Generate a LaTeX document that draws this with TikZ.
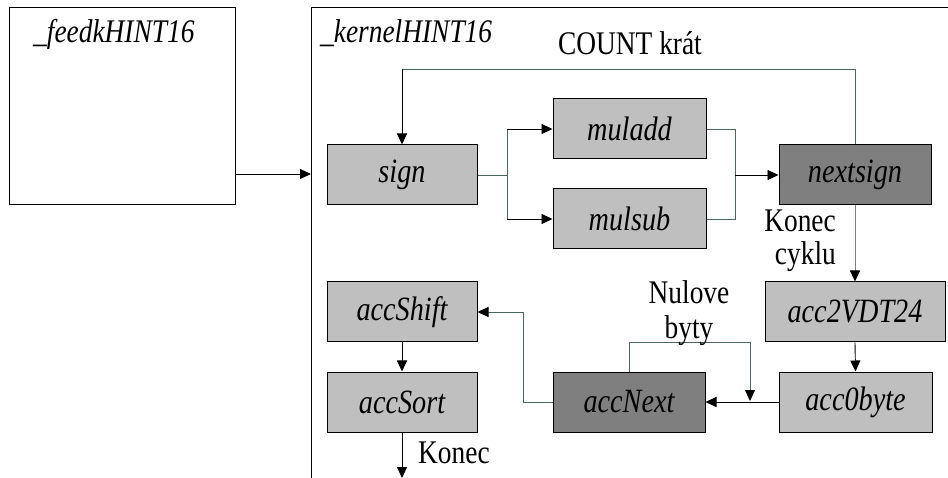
\documentclass[tikz,border=0pt]{standalone}
\usepackage{fontspec}
\setmainfont[FakeStretch=0.83]{Liberation Serif}
\usetikzlibrary{arrows.meta,positioning}
\definecolor{boxlight}{RGB}{191,191,191}
\definecolor{boxdark}{RGB}{127,127,127}
\definecolor{wirecol}{RGB}{75,105,90}

\begin{document}
\begin{tikzpicture}[x=1pt,y=-1pt,
    block/.style={draw,line width=1pt,fill=boxlight,minimum width=150pt,minimum height=60pt,inner sep=0pt,font=\itshape\fontsize{34}{38}\selectfont},
    darkblock/.style={block,fill=boxdark},
    lbl/.style={font=\fontsize{33}{33}\selectfont,inner sep=0pt},
    arr/.style={line width=0.9pt,-{Triangle[length=11pt,width=10pt,color=black]}},
    wire/.style={line width=0.9pt,draw=wirecol}]
  \useasboundingbox (0,0) rectangle (948,478);
  % outer frames
  \node[draw,line width=1pt,minimum width=226pt,minimum height=197pt,inner sep=0pt] (feedk) at (122,106.5) {};
  \node[anchor=base west,lbl] (feedkT) at (33,43) {\textit{\_feedkHINT16}};
  \draw[line width=1pt] (311,478) -- (311,8) -- (948,8);
  \node[anchor=base west,lbl] (kernelT) at (320,43) {\textit{\_kernelHINT16}};
  \node[anchor=base,lbl] (countT) at (630,55) {COUNT krát};
  \coordinate (kin) at (311,174);
  \draw[arr] (feedk.east |- kin) -- (kin);

  % blocks
  \node[block] (sign) at (402,175) {sign};
  \node[block,minimum width=153pt] (muladd) at (629.5,129) {muladd};
  \node[block,minimum width=153pt] (mulsub) at (629.5,219) {mulsub};
  \node[darkblock,minimum width=152pt] (nextsign) at (855,175) {nextsign};
  \node[block,minimum width=180pt] (acc2) at (855,312) {acc2VDT24};
  \node[block,minimum width=153pt] (acc0) at (855.5,402) {acc0byte};
  \node[darkblock,minimum width=152pt] (accNext) at (629,402) {accNext};
  \node[block] (accShift) at (402,312) {accShift};
  \node[block] (accSort) at (402,402) {accSort};

  % loop COUNT times
  \coordinate (loopL) at (402,69);
  \draw[wire] (nextsign.north) |- (loopL);
  \draw[arr] (loopL) -- (sign.north);

  % fork and join
  \coordinate (fork) at (507,175);
  \coordinate (join) at (735,175);
  \draw[wire] (sign.east) -- (fork);
  \draw[wire] (fork |- muladd) -- (fork |- mulsub);
  \draw[arr] (fork |- muladd) -- (muladd.west);
  \draw[arr] (fork |- mulsub) -- (mulsub.west);
  \draw[wire] (muladd.east) -| (join);
  \draw[wire] (mulsub.east) -| (join);
  \draw[arr] (join) -- (nextsign.west);

  % end of loop
  \draw[arr,draw=gray] (nextsign.south) -- (acc2.north);
  \node[lbl,align=right,anchor=base east] (konecC) at (836,265) {Konec\\cyklu};
  \draw[arr] (acc2.south) -- (acc0.north);
  \draw[arr] (acc0.west) -- (accNext.east);

  % zero bytes
  \coordinate (zeroR) at (750,342);
  \coordinate (zeroT) at (750,401);
  \draw[wire] (accNext.north) |- (zeroR);
  \draw[arr,draw=wirecol] (zeroR) -- (zeroT);
  \node[lbl,font=\fontsize{33}{35}\selectfont,align=center,anchor=base] (nulT) at (689,338) {Nulove\\byty};

  \coordinate (bendS) at (523,312);
  \draw[wire] (accNext.west) -| (bendS);
  \draw[arr,draw=wirecol] (bendS) -- (accShift.east);
  \draw[arr] (accShift.south) -- (accSort.north);
  \coordinate (endP) at (402,478);
  \draw[arr] (accSort.south) -- (endP);
  \node[lbl,anchor=base west] (konecE) at (418,463) {Konec};
\end{tikzpicture}
\end{document}
